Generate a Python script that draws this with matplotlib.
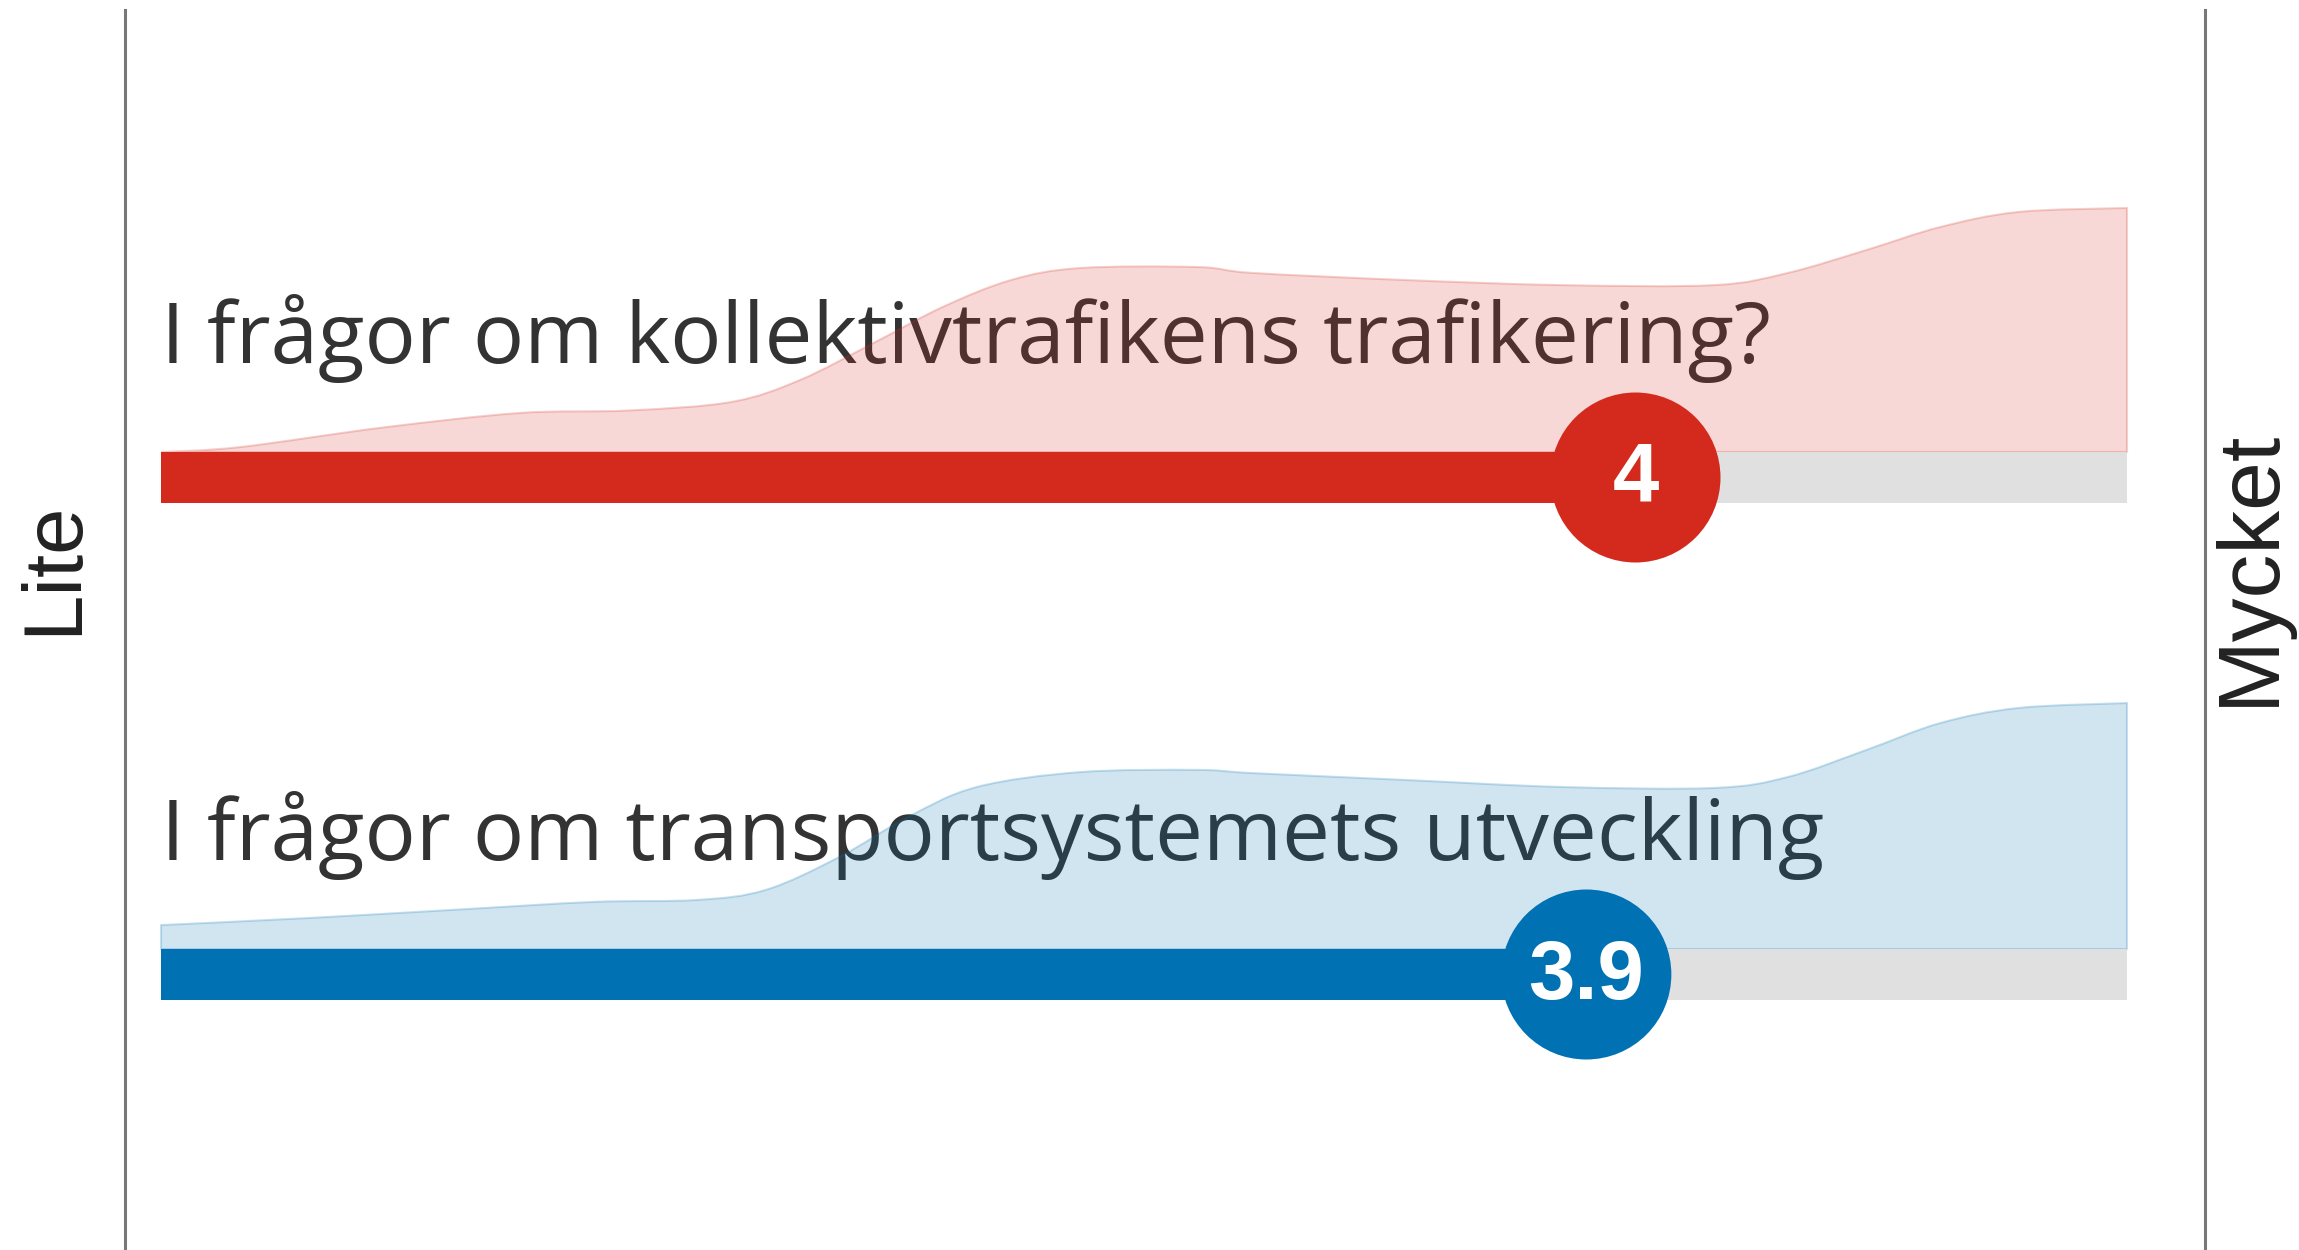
import numpy as np
import matplotlib
matplotlib.use("Agg")
import matplotlib.pyplot as plt
from matplotlib.lines import Line2D
from matplotlib.path import Path
from matplotlib.patches import PathPatch

# questions, mean scores (scale 1-5) and colours
questions = [
    "I frågor om kollektivtrafikens trafikering?",
    "I frågor om transportsystemets utveckling",
]
scores = [4.0, 3.9]
score_labels = ["4", "3.9"]
colors = ["#d42a1e", "#0071b2"]

scale_min, scale_max = 1, 5
low_label, high_label = "Lite", "Mycket"

# answer distribution outlines (relative density, 100 = max)
dist_x_red = [1.00, 1.16, 1.45, 1.73, 1.95, 2.16, 2.30, 2.45, 2.59, 2.73, 2.87,
              3.11, 3.22, 3.53, 3.85, 4.16, 4.31, 4.47, 4.62, 4.78, 5.00]
dist_y_red = [0, 2, 10, 16, 17, 20.5, 29.5, 44.7, 59.4, 70.5, 75.4,
              75.8, 73.4, 70.5, 68.4, 68.4, 73.4, 82.8, 92.2, 98.4, 100]
dist_x_blue = [1.00, 1.30, 1.59, 1.88, 2.09, 2.23, 2.38, 2.52, 2.66, 2.87,
               3.11, 3.22, 3.53, 3.85, 4.16, 4.31, 4.47, 4.62, 4.78, 5.00]
dist_y_blue = [9.8, 12.7, 16, 19.3, 20.1, 24.2, 37.7, 54.1, 66.4, 72.5,
               73.4, 72.1, 69.3, 66.4, 66, 70.5, 81.6, 92.6, 98.8, 100.8]
dists = [(dist_x_red, dist_y_red), (dist_x_blue, dist_y_blue)]


def smooth_outline(xs, ys, base):
    # closed path: baseline -> smooth curve through the points -> baseline
    pts = np.column_stack([xs, ys])
    verts = [(xs[0], base), tuple(pts[0])]
    codes = [Path.MOVETO, Path.LINETO]
    n = len(pts)
    for i in range(n - 1):
        p0 = pts[max(i - 1, 0)]
        p1, p2 = pts[i], pts[i + 1]
        p3 = pts[min(i + 2, n - 1)]
        verts += [tuple(p1 + (p2 - p0) / 6), tuple(p2 - (p3 - p1) / 6), tuple(p2)]
        codes += [Path.CURVE4] * 3
    verts += [(xs[-1], base), (xs[0], base)]
    codes += [Path.LINETO, Path.CLOSEPOLY]
    return Path(verts, codes)


W, H = 2299, 1250
fig = plt.figure(figsize=(W / 100, H / 100), dpi=100)
ax = fig.add_axes([0, 0, 1, 1])

# horizontal layout: scale 1 at px 161, scale 5 at px 2127
px0, px1 = 161, 2127
upp = (scale_max - scale_min) / (px1 - px0)
ax.set_xlim(scale_min - px0 * upp, scale_min + (W - px0) * upp)
ax.set_ylim(H, 0)
ax.axis("off")

bar_tops = [452, 949]
bar_h = 51
dens_px = 2.44

for i, q in enumerate(questions):
    top = bar_tops[i]
    mid = top + bar_h / 2
    c = colors[i]
    dx, dy = dists[i]
    ax.text(scale_min, top - 89, q, fontsize=61.5, family="Open Sans", color="#333333",
            ha="left", va="baseline", zorder=1)
    outline = smooth_outline(np.array(dx), top - np.array(dy) * dens_px, top)
    ax.add_patch(PathPatch(outline, facecolor=c, alpha=0.18, edgecolor="none", zorder=2))
    ax.add_patch(PathPatch(outline, facecolor="none", edgecolor=c, alpha=0.22,
                           lw=1.5, zorder=2))
    ax.barh(mid, scale_max - scale_min, left=scale_min, height=bar_h,
            color="#e0e0e0", zorder=3)
    ax.barh(mid, scores[i] - scale_min, left=scale_min, height=bar_h,
            color=c, zorder=3)
    ax.scatter([scores[i]], [mid], s=(170 * 0.72) ** 2, color=c,
               edgecolors="none", zorder=4)
    ax.text(scores[i], mid + 2, score_labels[i], fontsize=60, fontweight="bold",
            family="Liberation Sans", color="white", ha="center", va="center",
            zorder=5)

# side rules and end labels
for xp in (125, 2205):
    fig.add_artist(Line2D([xp / W, xp / W], [0, 1 - 10 / H],
                          color="#777777", lw=2.2, transform=fig.transFigure))
fig.text(54 / W, 1 - 568 / H, low_label, rotation=90, fontsize=60,
         family="Liberation Sans", color="#222222", ha="center", va="center")
fig.text(2250 / W, 1 - 567 / H, high_label, rotation=90, fontsize=63,
         family="Liberation Sans", color="#222222", ha="center", va="center")

fig.savefig("out.png", dpi=100, facecolor="white")
